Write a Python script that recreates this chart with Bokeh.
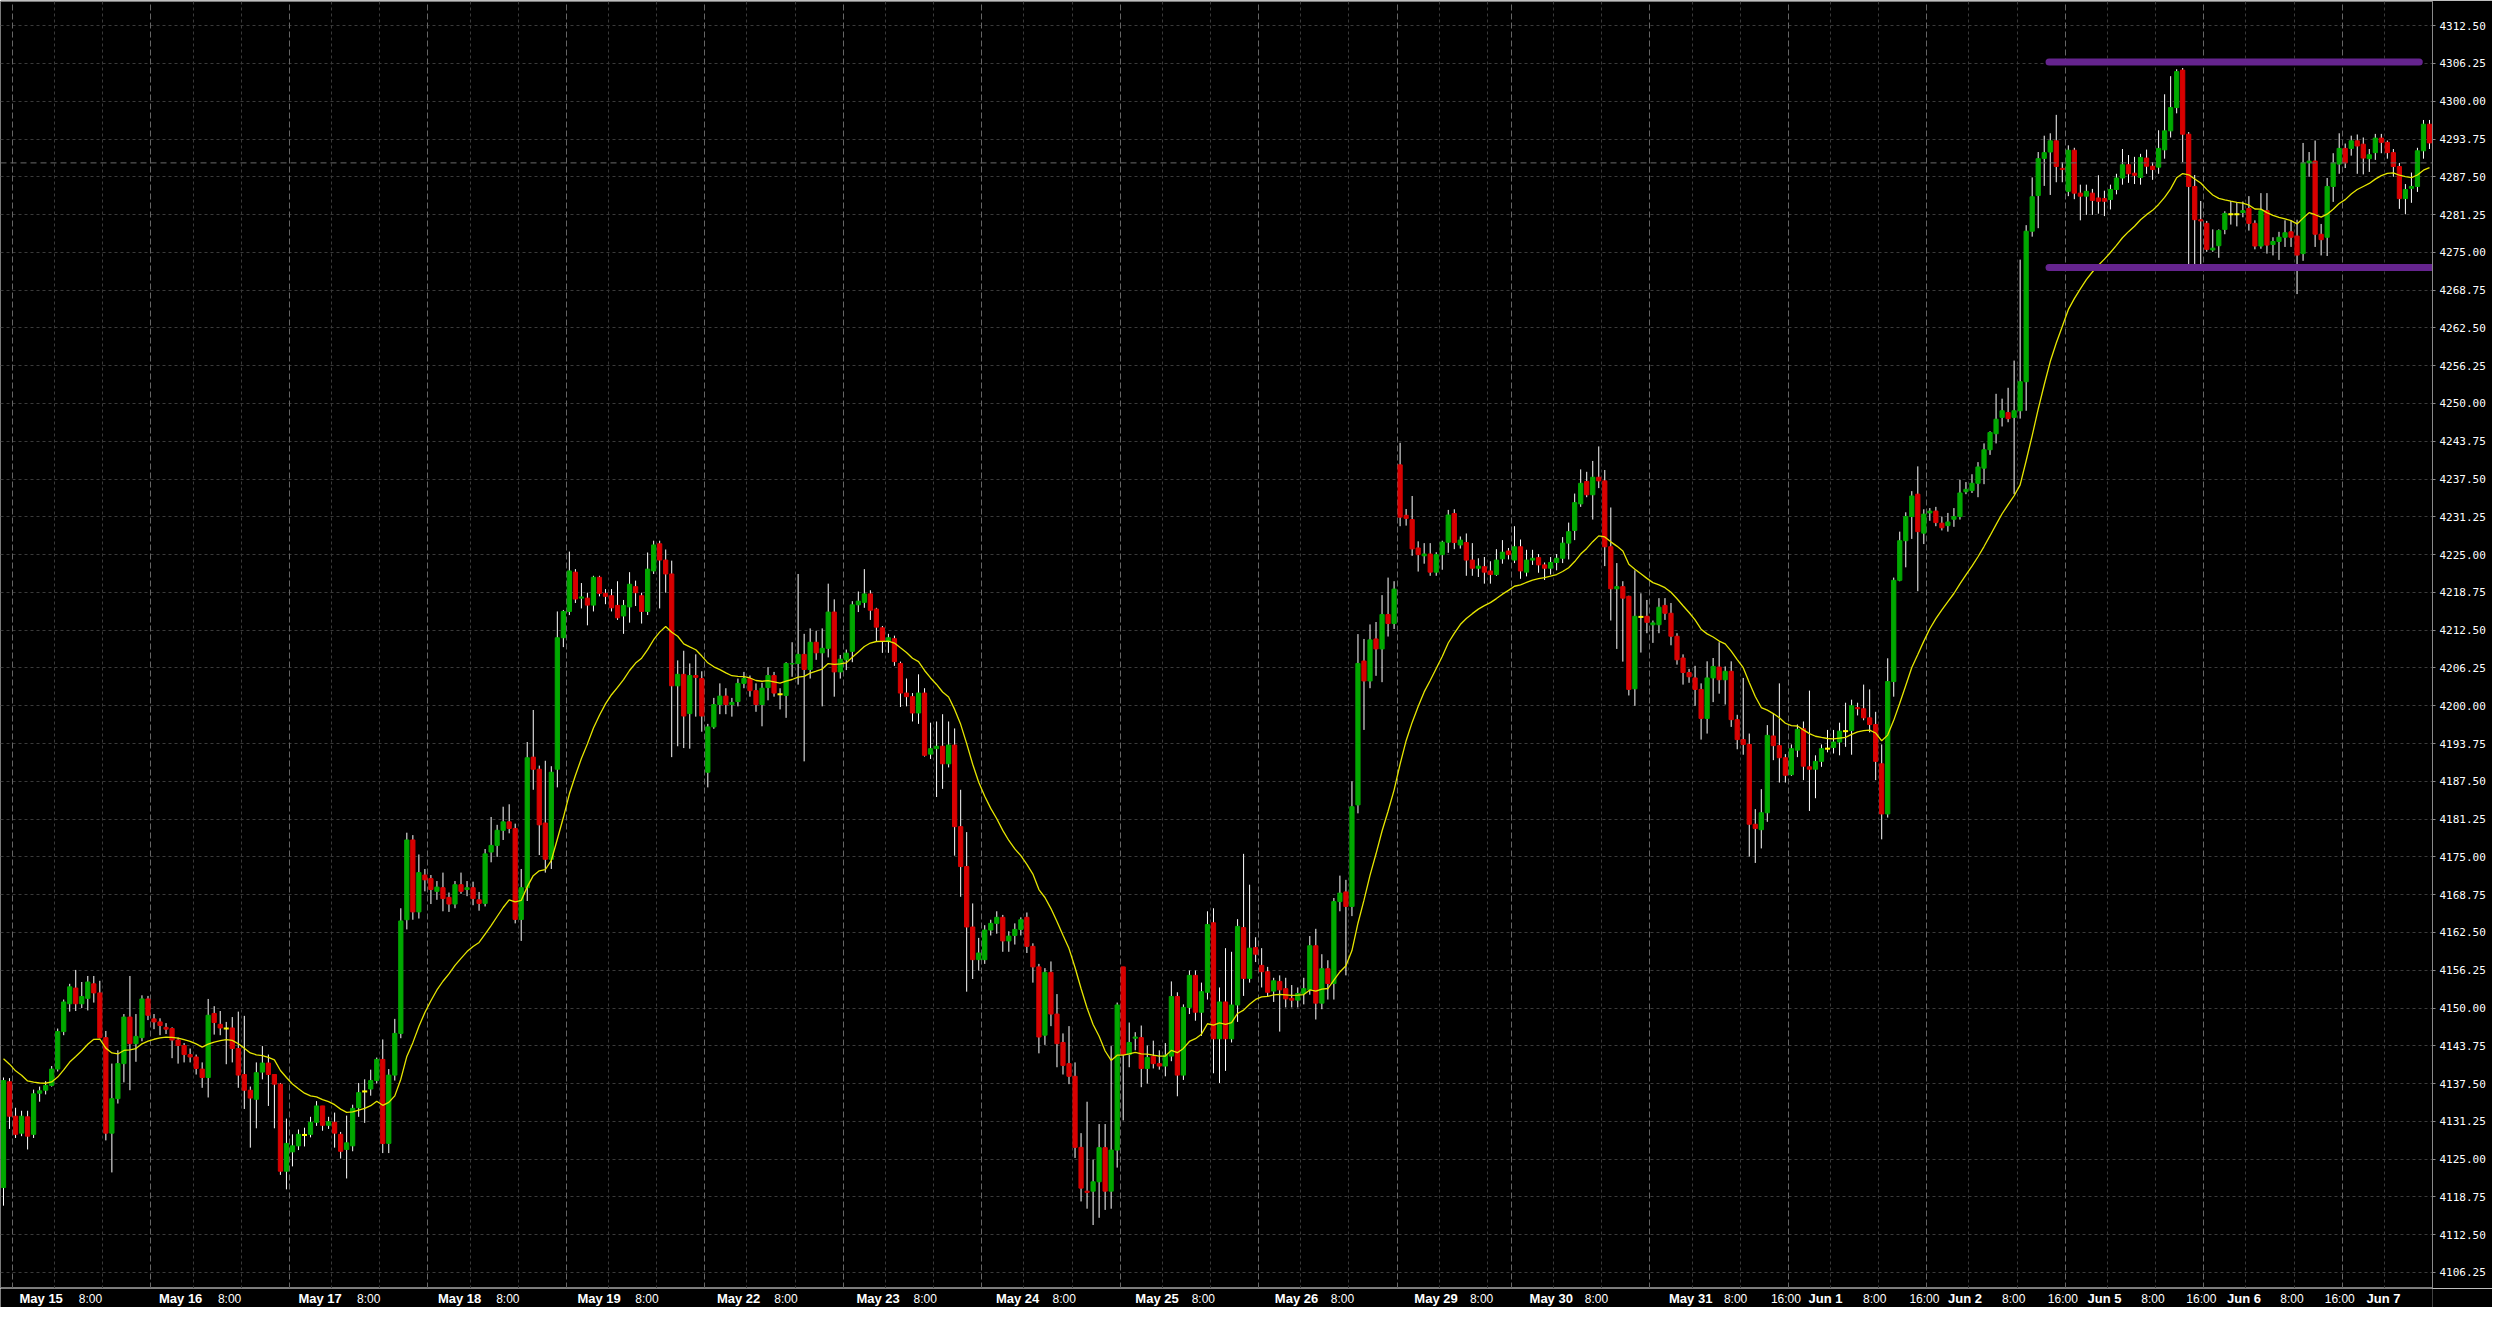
import numpy as np
from bokeh.plotting import figure
from bokeh.layouts import column
from bokeh.models import (ColumnDataSource, Range1d, FixedTicker, PrintfTickFormatter,
                          Grid, Span)
from bokeh.core.properties import value
from bokeh.embed import file_html
from bokeh.resources import INLINE

# ---------------- data (hourly bars) ----------------
opens = [
    4120.3, 4137.8, 4132.1, 4129.3, 4132.0, 4129.1, 4135.9, 4136.4, 4137.2, 4139.9,
    4146.1, 4150.7, 4153.3, 4150.7, 4151.6, 4154.0, 4152.5, 4145.1, 4129.3, 4135.0,
    4140.8, 4148.5, 4144.1, 4145.1, 4151.5, 4148.2, 4147.7, 4146.8, 4146.6, 4144.7,
    4143.8, 4142.3, 4141.9, 4139.9, 4138.5, 4149.1, 4147.3, 4146.6, 4146.7, 4143.3,
    4139.0, 4136.4, 4134.9, 4139.4, 4140.9, 4139.0, 4137.4, 4123.0, 4126.2, 4127.2,
    4129.0, 4129.1, 4131.1, 4133.8, 4130.6, 4131.1, 4129.1, 4126.6, 4127.2, 4133.5,
    4136.2, 4136.6, 4138.0, 4141.5, 4127.6, 4138.9, 4145.8, 4164.6, 4177.8, 4165.9,
    4172.0, 4171.4, 4169.3, 4169.9, 4168.3, 4167.2, 4170.4, 4169.6, 4169.9, 4167.9,
    4167.3, 4175.8, 4176.9, 4179.4, 4180.8, 4179.7, 4164.65, 4169.9, 4191.5, 4189.5,
    4180.6, 4174.6, 4189.5, 4211.25, 4215.6, 4222.1, 4217.8, 4217.8, 4216.65, 4221.25,
    4218.6, 4218.2, 4216.6, 4214.85, 4216.35, 4219.7, 4218.2, 4215.6, 4222.3, 4226.8,
    4224.1, 4221.8, 4203.3, 4205.2, 4198.7, 4205.0, 4204.5, 4189.0, 4196.5, 4200.2,
    4201.6, 4200.2, 4200.7, 4203.7, 4204.5, 4202.5, 4200.2, 4203.0, 4205.0, 4201.9,
    4201.7, 4206.9, 4207.0, 4208.5, 4206.0, 4210.5, 4208.75, 4209.5, 4215.5, 4205.6,
    4207.6, 4209.0, 4216.7, 4217.1, 4218.5, 4216.0, 4212.9, 4210.7, 4211.1, 4207.0,
    4202.1, 4201.5, 4198.8, 4202.1, 4192.0, 4192.9, 4193.3, 4190.4, 4193.5, 4180.0,
    4173.4, 4163.4, 4158.0, 4158.0, 4162.9, 4164.0, 4165.0, 4161.1, 4162.0, 4163.0,
    4165.0, 4160.2, 4156.8, 4145.5, 4155.9, 4149.0, 4144.3, 4140.8, 4138.7, 4126.95,
    4119.7, 4119.7, 4121.25, 4126.9, 4119.7, 4126.5, 4156.8, 4142.3, 4145.0, 4145.1,
    4140.0, 4142.0, 4140.8, 4140.4, 4142.05, 4151.9, 4138.9, 4150.1, 4155.4, 4149.3,
    4152.6, 4164.1, 4144.9, 4151.0, 4144.9, 4150.5, 4163.3, 4154.9, 4160.0, 4157.05,
    4156.0, 4152.8, 4154.4, 4153.2, 4151.6, 4151.3, 4152.4, 4153.0, 4160.3, 4150.8,
    4156.5, 4154.05, 4167.6, 4169.2, 4166.8, 4183.6, 4207.4, 4204.1, 4211.05, 4209.4,
    4215.1, 4213.6, 4239.85, 4231.5, 4230.8, 4226.1, 4224.8, 4225.1, 4222.1, 4225.0,
    4227.05, 4231.8, 4226.6, 4227.0, 4224.1, 4222.75, 4223.0, 4222.3, 4221.7, 4224.3,
    4225.6, 4224.1, 4226.3, 4222.1, 4224.1, 4224.5, 4223.3, 4222.75, 4223.7, 4224.4,
    4226.9, 4229.0, 4233.4, 4237.1, 4234.9, 4237.8, 4237.2, 4226.3, 4219.35, 4219.7,
    4218.1, 4202.8, 4214.7, 4214.8, 4213.4, 4213.4, 4216.6, 4215.3, 4211.5, 4207.9,
    4205.5, 4204.6, 4202.7, 4197.9, 4204.6, 4206.4, 4204.3, 4205.7, 4197.7, 4194.4,
    4193.6, 4180.4, 4179.5, 4182.3, 4195.0, 4193.4, 4191.4, 4188.6, 4192.65, 4196.2,
    4189.9, 4189.5, 4190.8, 4192.9, 4193.1, 4194.0, 4195.8, 4195.9, 4199.7, 4199.5,
    4198.0, 4196.9, 4190.4, 4182.1, 4204.0, 4220.75, 4227.3, 4231.3, 4235.0, 4228.55,
    4231.9, 4232.2, 4230.2, 4229.8, 4230.85, 4231.3, 4235.4, 4235.6, 4236.8, 4239.3,
    4242.35, 4245.0, 4247.7, 4248.5, 4247.7, 4248.8, 4253.6, 4278.5, 4284.4, 4290.55,
    4291.6, 4293.45, 4288.9, 4285.1, 4291.9, 4284.8, 4284.3, 4284.8, 4284.0, 4283.9,
    4283.75, 4285.4, 4287.3, 4289.5, 4288.1, 4287.4, 4290.6, 4289.25, 4289.1, 4291.96,
    4295.1, 4298.95, 4305.15, 4294.55, 4285.9, 4280.4, 4279.8, 4275.4, 4276.1, 4278.8,
    4281.3, 4281.3, 4281.6, 4282.25, 4279.8, 4276.05, 4281.9, 4276.3, 4276.8, 4277.5,
    4278.4, 4277.7, 4274.8, 4289.8, 4290.1, 4278.0, 4277.5, 4285.9, 4289.6, 4292.2,
    4292.2, 4293.45, 4292.9, 4290.5, 4291.5, 4293.9, 4293.2, 4291.5, 4289.2, 4283.9,
    4285.6, 4285.9, 4291.8, 4296.2,
]
highs = [
    4138.5, 4138.4, 4133.5, 4133.0, 4133.0, 4136.5, 4137.0, 4137.9, 4140.4, 4146.6,
    4151.4, 4154.0, 4156.3, 4154.3, 4155.3, 4155.3, 4154.5, 4146.2, 4140.8, 4143.0,
    4149.0, 4155.3, 4149.0, 4152.1, 4152.0, 4149.0, 4148.3, 4147.5, 4146.8, 4145.1,
    4144.2, 4143.3, 4142.3, 4141.0, 4151.5, 4150.3, 4149.5, 4147.7, 4148.5, 4149.4,
    4148.7, 4137.0, 4141.0, 4143.7, 4142.3, 4139.0, 4137.6, 4131.7, 4129.1, 4129.9,
    4130.2, 4132.0, 4134.6, 4133.8, 4132.0, 4132.7, 4129.5, 4132.2, 4134.0, 4137.6,
    4138.2, 4139.8, 4141.8, 4144.8, 4139.9, 4148.2, 4166.5, 4179.0, 4178.6, 4175.4,
    4173.0, 4172.0, 4171.0, 4172.4, 4169.1, 4171.0, 4172.4, 4171.0, 4170.9, 4169.2,
    4176.3, 4181.6, 4180.3, 4183.3, 4183.7, 4180.5, 4173.0, 4194.0, 4199.3, 4190.1,
    4190.9, 4190.0, 4215.6, 4215.85, 4225.5, 4222.6, 4220.3, 4218.7, 4221.5, 4221.5,
    4219.3, 4219.3, 4220.6, 4217.5, 4222.1, 4220.7, 4218.7, 4225.35, 4227.3, 4227.3,
    4225.85, 4224.0, 4207.5, 4209.1, 4207.0, 4208.5, 4205.7, 4197.0, 4201.3, 4203.7,
    4202.9, 4201.3, 4204.5, 4205.6, 4205.0, 4203.7, 4203.8, 4206.4, 4205.6, 4202.9,
    4207.2, 4210.5, 4221.8, 4211.9, 4212.8, 4212.4, 4212.8, 4220.2, 4217.6, 4208.4,
    4209.3, 4217.3, 4218.9, 4222.6, 4219.1, 4216.2, 4213.2, 4211.9, 4211.6, 4207.3,
    4204.5, 4202.1, 4205.2, 4202.9, 4197.2, 4197.4, 4198.6, 4197.4, 4196.25, 4186.1,
    4179.1, 4167.3, 4161.6, 4163.7, 4164.6, 4166.0, 4165.4, 4162.7, 4164.0, 4165.0,
    4165.8, 4160.7, 4157.3, 4156.6, 4157.7, 4152.3, 4145.8, 4147.0, 4141.0, 4129.3,
    4134.5, 4124.9, 4130.8, 4130.8, 4143.7, 4150.9, 4156.8, 4147.6, 4146.0, 4147.1,
    4143.8, 4144.6, 4143.0, 4144.2, 4154.4, 4152.6, 4150.6, 4156.2, 4156.2, 4154.2,
    4166.0, 4166.5, 4153.4, 4159.9, 4159.3, 4164.7, 4175.5, 4170.4, 4161.7, 4159.9,
    4156.8, 4155.0, 4155.4, 4155.0, 4153.8, 4153.4, 4155.0, 4161.9, 4163.1, 4158.9,
    4157.9, 4168.2, 4171.9, 4171.2, 4187.5, 4211.85, 4211.05, 4213.45, 4213.85, 4218.3,
    4221.2, 4220.6, 4243.5, 4232.55, 4234.7, 4227.2, 4226.9, 4226.9, 4225.4, 4227.3,
    4232.4, 4232.5, 4228.0, 4228.5, 4226.9, 4224.4, 4224.6, 4223.9, 4225.9, 4227.4,
    4226.1, 4229.7, 4227.5, 4225.8, 4225.8, 4225.1, 4223.7, 4224.6, 4225.1, 4227.9,
    4230.3, 4235.1, 4239.1, 4238.7, 4240.5, 4242.9, 4239.0, 4232.8, 4223.6, 4220.6,
    4218.2, 4222.4, 4218.6, 4217.5, 4214.1, 4217.8, 4217.8, 4217.0, 4212.0, 4208.5,
    4206.1, 4206.6, 4203.7, 4207.35, 4207.9, 4210.5, 4206.5, 4207.35, 4198.5, 4204.6,
    4195.4, 4182.9, 4186.2, 4196.8, 4198.8, 4203.7, 4192.0, 4193.6, 4196.9, 4197.4,
    4202.5, 4191.8, 4193.6, 4196.0, 4196.0, 4197.2, 4200.5, 4201.0, 4200.5, 4203.5,
    4202.7, 4199.0, 4193.6, 4207.85, 4221.2, 4228.8, 4232.0, 4235.5, 4239.6, 4232.5,
    4232.7, 4232.9, 4231.3, 4231.9, 4232.7, 4237.4, 4237.0, 4238.3, 4240.3, 4243.4,
    4245.4, 4251.6, 4250.8, 4252.6, 4257.1, 4273.8, 4279.5, 4287.4, 4291.6, 4294.3,
    4294.7, 4297.75, 4289.9, 4292.7, 4292.3, 4286.2, 4286.2, 4285.5, 4287.75, 4285.2,
    4286.2, 4288.0, 4292.1, 4291.1, 4290.8, 4291.3, 4292.0, 4289.9, 4295.2, 4301.15,
    4304.15, 4305.3, 4305.5, 4294.9, 4287.8, 4283.5, 4280.2, 4278.8, 4278.8, 4281.8,
    4283.5, 4283.2, 4283.4, 4284.3, 4280.3, 4284.8, 4284.8, 4277.5, 4278.4, 4280.3,
    4280.3, 4280.4, 4293.1, 4291.6, 4293.5, 4279.7, 4287.3, 4291.4, 4294.7, 4293.0,
    4294.3, 4294.5, 4294.0, 4292.1, 4294.6, 4294.6, 4293.5, 4292.1, 4289.8, 4286.3,
    4288.2, 4292.3, 4296.9, 4296.9,
]
lows = [
    4117.3, 4130.0, 4128.5, 4128.8, 4126.6, 4128.5, 4134.5, 4135.7, 4137.0, 4139.5,
    4145.5, 4149.4, 4149.5, 4150.0, 4149.6, 4150.9, 4145.0, 4128.1, 4122.8, 4134.2,
    4137.7, 4136.4, 4141.1, 4144.5, 4148.0, 4146.5, 4145.5, 4145.7, 4141.7, 4140.8,
    4141.0, 4141.0, 4139.0, 4136.8, 4135.2, 4145.6, 4145.5, 4140.7, 4141.0, 4136.8,
    4133.3, 4126.9, 4130.1, 4138.2, 4133.8, 4130.1, 4122.4, 4120.0, 4123.8, 4126.5,
    4127.1, 4128.6, 4130.5, 4129.7, 4130.0, 4126.9, 4125.1, 4121.8, 4126.3, 4132.0,
    4131.0, 4135.5, 4137.5, 4126.0, 4126.0, 4138.0, 4145.0, 4163.0, 4164.6, 4164.8,
    4169.3, 4167.2, 4167.9, 4166.0, 4165.9, 4166.5, 4168.9, 4168.5, 4167.0, 4166.1,
    4166.8, 4174.1, 4175.0, 4177.8, 4178.9, 4164.0, 4161.1, 4167.7, 4186.1, 4175.3,
    4172.4, 4173.0, 4186.5, 4209.7, 4215.0, 4217.0, 4216.1, 4213.3, 4215.6, 4218.1,
    4216.8, 4215.6, 4214.2, 4211.9, 4213.75, 4216.5, 4213.6, 4215.0, 4221.8, 4216.1,
    4218.7, 4191.5, 4193.3, 4193.0, 4192.9, 4198.2, 4195.7, 4186.5, 4196.2, 4198.6,
    4198.6, 4198.2, 4199.9, 4202.9, 4201.5, 4199.0, 4196.6, 4200.9, 4201.5, 4199.4,
    4198.0, 4204.8, 4203.5, 4190.8, 4204.5, 4207.6, 4199.9, 4208.0, 4201.5, 4204.5,
    4205.9, 4207.2, 4215.5, 4216.2, 4214.2, 4210.7, 4208.75, 4208.75, 4206.6, 4199.8,
    4199.9, 4197.4, 4197.0, 4191.6, 4191.2, 4184.9, 4186.25, 4189.8, 4175.2, 4168.4,
    4152.7, 4154.8, 4156.2, 4157.3, 4162.0, 4162.3, 4159.3, 4159.3, 4160.5, 4162.0,
    4159.1, 4154.2, 4142.5, 4143.9, 4147.0, 4140.2, 4139.0, 4137.4, 4125.2, 4118.0,
    4116.8, 4114.1, 4115.3, 4116.6, 4116.8, 4123.6, 4131.4, 4140.2, 4143.0, 4136.9,
    4137.5, 4140.0, 4139.8, 4138.7, 4141.2, 4135.4, 4138.1, 4149.0, 4147.9, 4145.4,
    4151.4, 4139.2, 4137.6, 4139.6, 4144.3, 4147.7, 4152.0, 4154.2, 4157.6, 4153.4,
    4151.9, 4151.0, 4146.1, 4150.1, 4150.1, 4150.1, 4150.6, 4152.2, 4148.1, 4149.8,
    4151.4, 4151.4, 4166.0, 4155.4, 4165.2, 4182.2, 4196.0, 4202.9, 4204.95, 4203.9,
    4211.45, 4212.7, 4229.7, 4229.8, 4224.8, 4222.2, 4223.5, 4221.5, 4221.5, 4222.5,
    4225.3, 4225.9, 4226.0, 4221.5, 4221.5, 4221.3, 4220.2, 4220.2, 4221.5, 4223.5,
    4224.2, 4223.6, 4221.0, 4221.4, 4223.3, 4222.0, 4220.8, 4221.7, 4222.4, 4223.6,
    4224.2, 4227.4, 4232.9, 4234.5, 4230.8, 4236.0, 4223.1, 4214.1, 4209.4, 4207.3,
    4201.7, 4200.0, 4208.8, 4212.0, 4210.4, 4212.0, 4214.2, 4210.0, 4206.8, 4203.5,
    4203.8, 4200.0, 4194.4, 4195.4, 4200.6, 4202.0, 4200.2, 4196.5, 4192.8, 4191.9,
    4175.05, 4174.0, 4176.4, 4180.8, 4191.0, 4187.3, 4187.3, 4188.4, 4191.5, 4187.7,
    4182.6, 4184.7, 4189.9, 4192.3, 4192.1, 4191.8, 4193.2, 4191.9, 4198.4, 4197.6,
    4195.6, 4187.7, 4177.9, 4181.5, 4201.5, 4220.6, 4222.9, 4227.6, 4218.95, 4226.75,
    4230.6, 4229.7, 4229.0, 4228.8, 4229.6, 4230.8, 4235.0, 4235.2, 4234.5, 4236.65,
    4241.5, 4243.4, 4246.2, 4246.9, 4235.0, 4247.5, 4248.8, 4277.6, 4279.0, 4286.0,
    4284.5, 4286.6, 4286.6, 4284.3, 4283.8, 4280.3, 4281.2, 4281.2, 4281.4, 4281.0,
    4282.1, 4284.6, 4286.2, 4286.5, 4286.3, 4286.2, 4288.0, 4287.0, 4288.0, 4290.5,
    4294.0, 4298.0, 4289.9, 4272.6, 4273.0, 4273.0, 4275.1, 4275.1, 4274.1, 4278.0,
    4279.6, 4279.3, 4280.8, 4278.6, 4275.5, 4275.6, 4274.8, 4274.5, 4273.75, 4275.9,
    4275.9, 4268.1, 4273.6, 4287.5, 4275.9, 4274.5, 4274.4, 4283.35, 4288.0, 4288.95,
    4291.0, 4288.0, 4287.9, 4288.3, 4290.3, 4291.4, 4290.5, 4287.5, 4282.2, 4281.3,
    4283.2, 4285.0, 4290.5, 4292.1,
]
closes = [
    4138.0, 4132.1, 4129.1, 4132.1, 4128.8, 4135.8, 4136.3, 4137.2, 4139.9, 4146.1,
    4151.0, 4153.5, 4150.7, 4151.9, 4154.3, 4152.5, 4145.1, 4129.3, 4135.0, 4140.8,
    4148.5, 4144.1, 4145.3, 4151.5, 4148.8, 4147.7, 4147.1, 4146.5, 4144.7, 4143.8,
    4142.3, 4141.9, 4140.0, 4138.5, 4148.8, 4147.6, 4146.7, 4146.6, 4143.3, 4138.9,
    4136.4, 4135.1, 4139.3, 4140.9, 4139.0, 4137.4, 4123.0, 4127.6, 4127.2, 4129.1,
    4129.0, 4131.1, 4133.8, 4130.6, 4131.2, 4129.3, 4126.3, 4127.7, 4133.4, 4136.0,
    4136.2, 4138.0, 4141.5, 4127.6, 4138.9, 4145.8, 4164.4, 4177.8, 4165.9, 4172.4,
    4171.2, 4169.6, 4170.0, 4168.1, 4167.2, 4170.4, 4169.3, 4169.9, 4168.1, 4167.3,
    4175.5, 4176.9, 4179.4, 4180.8, 4179.7, 4164.65, 4169.9, 4191.4, 4189.5, 4180.3,
    4174.6, 4189.0, 4211.25, 4215.6, 4222.3, 4217.65, 4218.0, 4216.65, 4221.25, 4218.6,
    4218.1, 4216.2, 4214.55, 4216.6, 4220.1, 4218.7, 4215.6, 4222.6, 4226.6, 4224.1,
    4221.8, 4203.3, 4205.2, 4198.3, 4205.0, 4204.7, 4198.3, 4196.5, 4200.2, 4201.6,
    4200.2, 4200.55, 4203.7, 4204.5, 4202.5, 4200.2, 4202.9, 4205.0, 4202.1, 4201.9,
    4207.0, 4207.0, 4208.5, 4206.0, 4210.5, 4208.75, 4209.5, 4215.5, 4205.6, 4207.7,
    4208.7, 4216.7, 4217.3, 4218.5, 4215.8, 4213.0, 4210.7, 4211.25, 4207.3, 4202.1,
    4201.5, 4198.8, 4202.1, 4191.8, 4192.9, 4193.3, 4190.4, 4193.5, 4180.0, 4173.4,
    4163.4, 4158.0, 4159.1, 4162.9, 4164.0, 4165.0, 4161.1, 4161.9, 4163.0, 4164.6,
    4160.2, 4156.8, 4145.2, 4155.9, 4149.0, 4144.1, 4140.5, 4138.7, 4126.95, 4120.2,
    4119.5, 4121.25, 4126.9, 4119.7, 4126.5, 4150.5, 4142.3, 4144.3, 4145.2, 4140.0,
    4141.8, 4140.8, 4140.4, 4142.2, 4151.9, 4138.9, 4150.1, 4155.4, 4149.3, 4152.7,
    4163.8, 4144.9, 4151.0, 4144.9, 4150.5, 4163.5, 4154.9, 4159.9, 4158.9, 4156.0,
    4152.6, 4154.5, 4153.0, 4151.5, 4151.3, 4152.4, 4153.2, 4160.3, 4150.8, 4156.5,
    4154.05, 4167.6, 4169.0, 4166.8, 4183.3, 4207.0, 4204.1, 4210.9, 4209.4, 4215.1,
    4213.6, 4219.3, 4231.2, 4231.0, 4225.95, 4225.0, 4225.1, 4222.1, 4225.0, 4227.05,
    4231.55, 4227.0, 4227.4, 4224.1, 4222.75, 4223.1, 4222.1, 4221.7, 4224.1, 4225.4,
    4225.0, 4226.3, 4222.3, 4224.1, 4224.4, 4223.3, 4222.75, 4223.7, 4224.4, 4226.9,
    4228.8, 4233.6, 4236.8, 4234.9, 4237.8, 4237.2, 4226.3, 4219.35, 4219.7, 4217.8,
    4202.7, 4214.8, 4214.7, 4213.8, 4213.7, 4216.3, 4215.3, 4211.5, 4207.6, 4205.5,
    4204.8, 4202.7, 4197.9, 4204.6, 4206.5, 4204.3, 4205.7, 4197.7, 4194.4, 4193.6,
    4180.4, 4179.7, 4182.3, 4195.1, 4193.4, 4191.4, 4188.5, 4192.9, 4196.1, 4190.0,
    4189.5, 4190.8, 4192.9, 4192.9, 4194.0, 4195.8, 4195.8, 4200.0, 4199.5, 4198.0,
    4196.9, 4190.8, 4182.1, 4204.0, 4220.75, 4227.3, 4231.3, 4234.7, 4228.8, 4231.7,
    4232.2, 4230.3, 4229.45, 4230.4, 4231.3, 4235.2, 4235.8, 4236.8, 4239.5, 4242.35,
    4245.2, 4247.4, 4248.8, 4247.5, 4248.8, 4253.6, 4278.5, 4284.2, 4290.5, 4291.5,
    4293.45, 4289.2, 4288.7, 4291.9, 4284.8, 4284.3, 4285.1, 4283.6, 4283.45, 4283.45,
    4285.4, 4287.3, 4289.5, 4288.0, 4287.75, 4290.7, 4289.25, 4288.7, 4292.2, 4295.1,
    4298.95, 4304.9, 4294.55, 4285.9, 4280.4, 4280.2, 4275.5, 4275.7, 4278.6, 4281.45,
    4281.3, 4281.3, 4281.9, 4279.8, 4276.05, 4281.9, 4276.2, 4276.8, 4277.5, 4278.25,
    4277.5, 4274.55, 4289.8, 4290.1, 4278.0, 4277.1, 4285.9, 4289.8, 4292.2, 4289.8,
    4293.45, 4292.6, 4290.6, 4291.15, 4293.9, 4293.2, 4291.5, 4289.2, 4283.9, 4285.4,
    4285.9, 4291.8, 4296.2, 4293.1,
]
assert len(opens) == len(highs) == len(lows) == len(closes) == 404, (
    len(opens), len(highs), len(lows), len(closes))

# sessions (18:00 -> 17:00 ET, hourly bars); May 29 was a short holiday session
session_labels = ["May 15", "May 16", "May 17", "May 18", "May 19", "May 22", "May 23",
                  "May 24", "May 25", "May 26", "May 29", "May 30", "May 31", "Jun 1",
                  "Jun 2", "Jun 5", "Jun 6", "Jun 7"]
session_lengths = [23, 23, 23, 23, 23, 23, 23, 23, 23, 23, 19, 23, 23, 23, 23, 23, 23, 15]
bars_before_first_session = 2
sessions_with_16h_label = ["May 31", "Jun 1", "Jun 2", "Jun 5", "Jun 6"]

price_ticks = [4106.25 + 6.25 * k for k in range(34)]

ema_period = 20
ema_prior = 4142.0          # MA level just left of the first bar
last_price_line = 4289.8    # dashed grey price line
box_top, box_bottom = 4306.5, 4272.5     # drawn purple levels
box_x_start, box_top_end, box_bottom_end = 340.3, 401.8, 406.0

# ---------------- derived ----------------
n = len(closes)
xs = np.arange(n) + 0.5
o = np.array(opens); h = np.array(highs); l = np.array(lows); c = np.array(closes)
top = np.maximum(o, c); bot = np.minimum(o, c)
up = c > o; dn = c < o; doji = c == o

alpha = 2.0 / (ema_period + 1)
ema, prev = [], ema_prior
for v in closes:
    prev = prev + alpha * (v - prev)
    ema.append(prev)

starts = np.cumsum([bars_before_first_session] + session_lengths[:-1])
hour_lines = []
for s in starts:
    hour_lines += [s + 7, s + 15]

BG = "#000000"
W = 2492
RIGHT = 60
STRIP_H = 19

# ---------------- main price panel ----------------
p = figure(width=W, height=1307 - STRIP_H, output_backend="svg", toolbar_location=None,
           x_range=Range1d(0, n), y_range=Range1d(4103.6, 4316.5),
           x_axis_location=None, y_axis_location="right",
           min_border_left=0, min_border_top=1, min_border_right=RIGHT, min_border_bottom=0,
           background_fill_color=BG, border_fill_color=BG)
p.outline_line_color = "#7a7a7a"
p.xgrid.visible = False
p.ygrid.visible = False

p.add_layout(Grid(dimension=1, ticker=FixedTicker(ticks=price_ticks),
                  grid_line_color="#3a3a3a", grid_line_dash="3 3", grid_line_width=1))
p.add_layout(Grid(dimension=0, ticker=FixedTicker(ticks=[float(v) for v in hour_lines]),
                  grid_line_color="#3a3a3a", grid_line_dash="3 3", grid_line_width=1))
p.add_layout(Grid(dimension=0, ticker=FixedTicker(ticks=[float(v) for v in starts]),
                  grid_line_color="#666666", grid_line_dash="6 3", grid_line_width=1))
p.add_layout(Span(location=last_price_line, dimension="width", line_color="#6a6a6a",
                  line_dash="6 4", line_width=1))

ax = p.yaxis[0]
ax.ticker = FixedTicker(ticks=price_ticks)
ax.formatter = PrintfTickFormatter(format="%.2f")
ax.axis_line_color = "#8a8a8a"
ax.major_tick_line_color = "#8a8a8a"
ax.major_tick_out = 3
ax.major_tick_in = 0
ax.minor_tick_line_color = None
ax.major_label_standoff = 4
ax.major_label_text_color = "#ffffff"
ax.major_label_text_font = "DejaVu Sans Mono"
ax.major_label_text_font_size = "11px"

# wicks
p.segment(x0=xs, y0=l, x1=xs, y1=h, line_color="#ffffff", line_width=1)
# bodies
bw = 0.7
p.vbar(x=xs[up], bottom=bot[up], top=top[up], width=bw,
       fill_color="#00a800", line_color="#00a800", line_width=1)
p.vbar(x=xs[dn], bottom=bot[dn], top=top[dn], width=bw,
       fill_color="#d80000", line_color="#d80000", line_width=1)
p.segment(x0=xs[doji] - 0.42, y0=c[doji], x1=xs[doji] + 0.42, y1=c[doji],
          line_color="#ffff00", line_width=2)

# moving average
p.line(xs, ema, line_color="#e6e600", line_width=1.3)

# purple levels
p.segment(x0=[box_x_start, box_x_start], y0=[box_top, box_bottom],
          x1=[box_top_end, box_bottom_end], y1=[box_top, box_bottom],
          line_color="#65248e", line_width=7, line_cap="round")

# ---------------- time-label strip (shares the x range) ----------------
strip = figure(width=W, height=STRIP_H, output_backend="svg", toolbar_location=None,
               x_range=p.x_range, y_range=Range1d(0, 1),
               x_axis_location=None, y_axis_location=None,
               min_border_left=0, min_border_top=0, min_border_right=RIGHT,
               min_border_bottom=0, background_fill_color=BG, border_fill_color=BG)
strip.outline_line_color = None
strip.xgrid.visible = False
strip.ygrid.visible = False

day_x = [s + 1.14 + 3.0 * s / n for s in starts]
strip.text(x=day_x, y=[0.45] * len(day_x), text=session_labels,
           text_align="left", text_baseline="middle", text_color="#ffffff",
           text_font=value("Liberation Sans"), text_font_style="bold",
           text_font_size="13px")
hx, ht = [], []
for s, lab in zip(starts, session_labels):
    if lab != "Jun 7":
        hx.append(s + 11.0 + 1.9 * s / n); ht.append("8:00")
    if lab in sessions_with_16h_label:
        hx.append(s + 20.1); ht.append("16:00")
strip.text(x=hx, y=[0.45] * len(hx), text=ht,
           text_align="left", text_baseline="middle", text_color="#ffffff",
           text_font=value("Liberation Sans"), text_font_size="12px")

layout = column(p, strip, spacing=0)
open("out.html", "w").write(file_html(layout, INLINE))
